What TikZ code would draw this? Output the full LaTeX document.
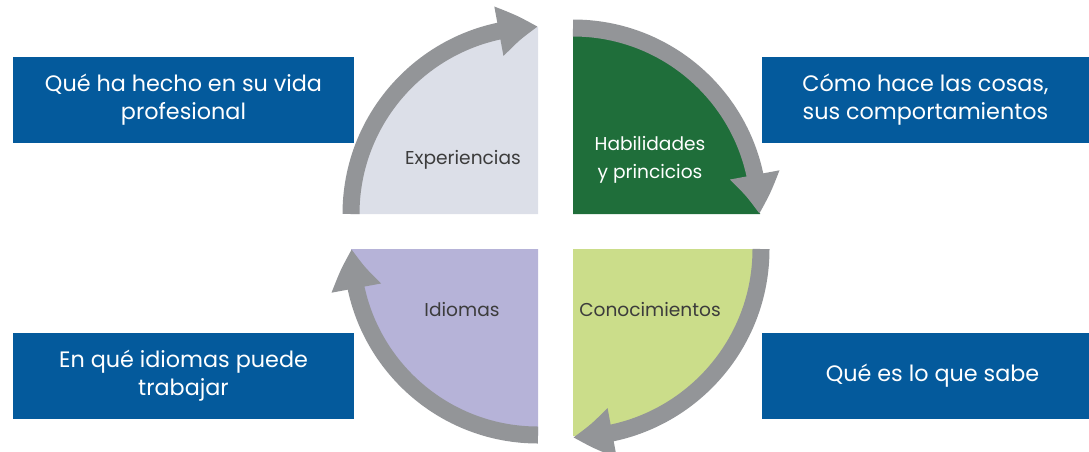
\documentclass[tikz,border=0pt]{standalone}
\usepackage{fontspec}
\setmainfont{Poppins}
\usetikzlibrary{arrows.meta,bending}
\definecolor{boxblue}{RGB}{4,90,156}
\definecolor{arrgray}{RGB}{147,149,152}
\definecolor{qgray}{RGB}{220,223,232}
\definecolor{qgreen}{RGB}{31,110,58}
\definecolor{qlav}{RGB}{182,179,216}
\definecolor{qlime}{RGB}{203,221,138}
\definecolor{txtgray}{RGB}{60,60,60}
\tikzset{
  infobox/.style={fill=boxblue,text=white,align=center,inner sep=0pt,
    minimum height=86pt,font=\fontsize{22.3}{28}\selectfont},
  qlabel/.style={align=center,text=txtgray,font=\fontsize{18.6}{28}\selectfont},
  cyclearrow/.style={draw=arrgray,line width=17pt,
    -{Triangle[width=47pt,length=40pt,bend]}}
}
\begin{document}
\begin{tikzpicture}[x=1pt,y=-1pt]
\useasboundingbox (0,0) rectangle (1089,451);
% quadrants
\fill[qgray] (538,214) -- ++(180:187) arc[start angle=180,end angle=270,radius=187] -- cycle;
\fill[qgreen] (573,214) -- ++(270:187) arc[start angle=270,end angle=360,radius=187] -- cycle;
\fill[qlime] (573,249) -- ++(0:187) arc[start angle=0,end angle=90,radius=187] -- cycle;
\fill[qlav] (538,249) -- ++(90:187) arc[start angle=90,end angle=180,radius=187] -- cycle;
% arrows
\draw[cyclearrow] (538,214) ++(180:187) arc[start angle=180,end angle=270,radius=187];
\draw[cyclearrow] (573,214) ++(270:186) arc[start angle=270,end angle=360,radius=186];
\draw[cyclearrow] (573,249) ++(0:188) arc[start angle=0,end angle=90,radius=188];
\draw[cyclearrow] (538,249) ++(90:186) arc[start angle=90,end angle=180,radius=186];
% quadrant labels
\node[qlabel] (exp) at (463,160) {Experiencias};
\node[qlabel,text=white] (hab) at (650,160) {Habilidades\\y princicios};
\node[qlabel] (idi) at (462,309) {Idiomas};
\node[qlabel] (con) at (650,309) {Conocimientos};
% boxes
\node[infobox,minimum width=341pt] (b1) at (183.5,99.5) {Qué ha hecho en su vida\\profesional};
\node[infobox,minimum width=327pt] (b2) at (925.5,99.5) {Cómo hace las cosas,\\sus comportamientos};
\node[infobox,minimum width=341pt] (b3) at (183.5,375.5) {En qué idiomas puede\\trabajar};
\node[infobox,minimum width=341pt] (b4) at (932.5,375.5) {Qué es lo que sabe};
\end{tikzpicture}
\end{document}
